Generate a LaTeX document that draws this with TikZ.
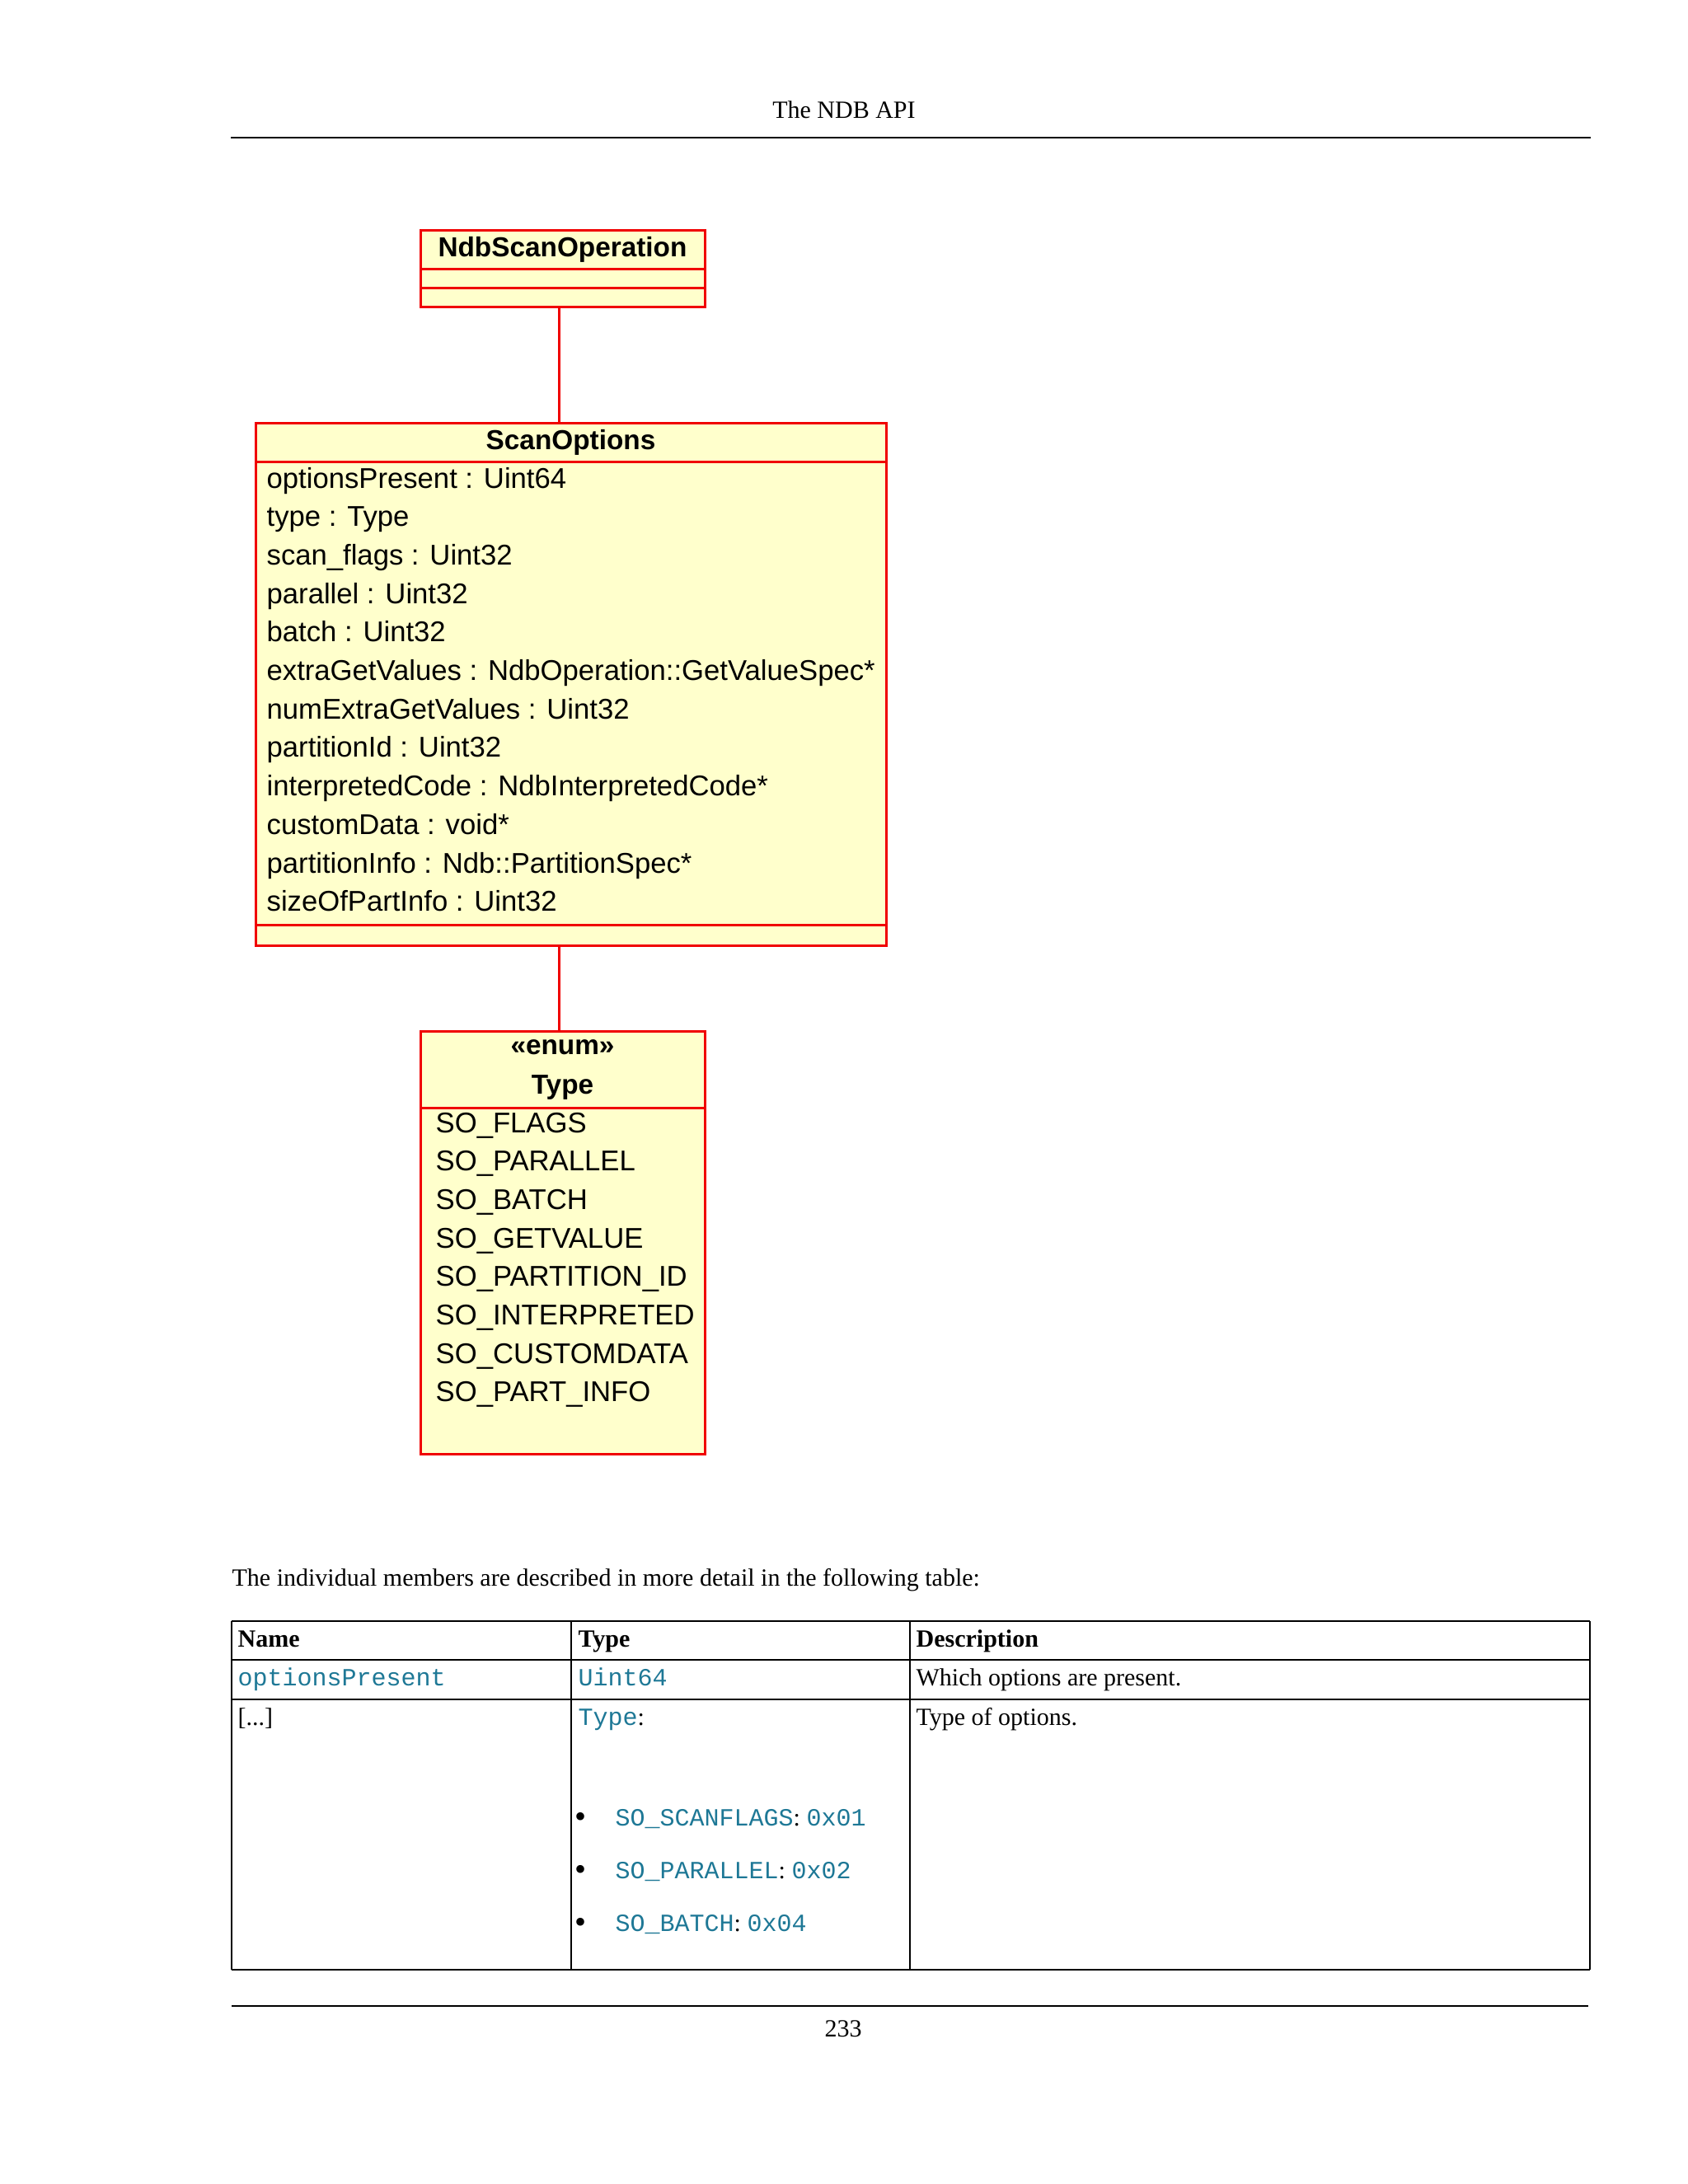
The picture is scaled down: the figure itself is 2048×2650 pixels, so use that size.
\documentclass[tikz,border=0pt]{standalone}
\usepackage{fontspec}
\setmainfont{Liberation Serif}
\setmonofont{Liberation Mono}
\newfontfamily\umlfont{Liberation Sans}
\usepackage{xcolor}
\usepackage{tikz}
\usetikzlibrary{positioning}
\definecolor{umledge}{RGB}{240,0,0}
\definecolor{umlfill}{RGB}{255,255,204}
\definecolor{codeink}{RGB}{30,120,150}
\tikzset{
  clsbox/.style={
    draw=umledge, fill=umlfill, line width=0.9pt,
    outer sep=0pt, inner sep=0pt, minimum width=103.5pt
  },
  clswide/.style={clsbox, minimum width=229.5pt},
  clsname/.style={font=\umlfont\bfseries\fontsize{10}{14.4}\selectfont, align=center},
  clsattr/.style={font=\umlfont\fontsize{10.4}{12}\selectfont, inner sep=0pt, anchor=base west},
  conn/.style={draw=umledge, line width=0.9pt},
  pagetxt/.style={font=\fontsize{9}{11}\selectfont, inner sep=0pt, anchor=base west},
  headtxt/.style={pagetxt, font=\bfseries\fontsize{9}{11}\selectfont},
  codetxt/.style={pagetxt, font=\ttfamily\fontsize{9}{11}\selectfont, text=codeink},
  pagerule/.style={line width=0.6pt},
  tabthick/.style={line width=0.6pt},
  tabthin/.style={line width=0.4pt}
}
\begin{document}
\begin{tikzpicture}[x=0.3pt, y=-0.3pt, node distance=0pt]
  \useasboundingbox[fill=white] (0,0) rectangle (2048,2650);
  \node[pagetxt, anchor=base] (head) at (1024,143) {The NDB API};
  \draw[pagerule] (280,167) -- (1930,167);

  \node[clsbox, clsname, minimum height=14.1pt, anchor=north] (nso1) at (682.5,279) {NdbScanOperation};
  \node[clsbox, minimum height=6.9pt, below=of nso1] (nso2) {};
  \node[clsbox, minimum height=6.9pt, below=of nso2] (nso3) {};

  \node[clswide, clsname, minimum height=14.1pt, anchor=north] (so1) at (692.5,513) {ScanOptions};
  \node[clswide, minimum height=168.6pt, below=of so1] (so2) {};
  \node[clswide, minimum height=7.5pt, below=of so2] (so3) {};
  \foreach \lbl [count=\i from 0] in {optionsPresent : Uint64, type : Type, scan\_flags : Uint32,
      parallel : Uint32, batch : Uint32, extraGetValues : NdbOperation::GetValueSpec*,
      numExtraGetValues : Uint32, partitionId : Uint32, interpretedCode : NdbInterpretedCode*,
      customData : void*, partitionInfo : Ndb::PartitionSpec*, sizeOfPartInfo : Uint32}
    \node[clsattr] (att\i) at (323,{592+46.7*\i}) {\lbl};

  \node[clsbox, clsname, minimum height=27.9pt, anchor=north] (ty1) at (682.5,1251) {«enum»\\Type};
  \node[clsbox, minimum height=126pt, below=of ty1] (ty2) {};
  \foreach \lbl [count=\i from 0] in {SO\_FLAGS, SO\_PARALLEL, SO\_BATCH, SO\_GETVALUE,
      SO\_PARTITION\_ID, SO\_INTERPRETED, SO\_CUSTOMDATA, SO\_PART\_INFO}
    \node[clsattr] (lit\i) at (528,{1374+46.7*\i}) {\lbl};

  \draw[conn] ([xshift=-1.35pt]nso3.south) -- ([xshift=-1.35pt]nso3.south |- so1.north);
  \draw[conn] ([xshift=-1.35pt]ty1.north |- so3.south) -- ([xshift=-1.35pt]ty1.north);

  \node[pagetxt] (intro) at (281,1924) {The individual members are described in more detail in the following table:};

  \draw[tabthick] (281,1967) -- (1929,1967);
  \draw[tabthin] (281,2014) -- (1929,2014);
  \draw[tabthin] (281,2062) -- (1929,2062);
  \draw[tabthick] (281,2390) -- (1929,2390);
  \foreach \x in {281,693,1104,1929}
    \draw[tabthin] (\x,1967) -- (\x,2390);

  \node[headtxt] (hname) at (288,1998) {Name};
  \node[headtxt] (htype) at (701,1998) {Type};
  \node[headtxt] (hdesc) at (1111,1998) {Description};
  \node[codetxt] (r1name) at (288,2045) {optionsPresent};
  \node[codetxt] (r1type) at (701,2045) {Uint64};
  \node[pagetxt] (r1desc) at (1111,2045) {Which options are present.};
  \node[pagetxt] (r2name) at (288,2093) {[...]};
  \node[pagetxt] (r2type) at (701,2093) {\textcolor{codeink}{\ttfamily Type}:};
  \node[pagetxt] (r2desc) at (1111,2093) {Type of options.};
  \foreach \flag/\hexv [count=\i from 0] in {SO\_SCANFLAGS/0x01, SO\_PARALLEL/0x02, SO\_BATCH/0x04} {
    \node[pagetxt, anchor=base, font=\fontsize{12}{12}\selectfont] (dot\i) at (704,{2217+64*\i}) {\textbullet};
    \node[pagetxt] (opt\i) at (746,{2215+64*\i}) {\textcolor{codeink}{\ttfamily\flag}: \textcolor{codeink}{\ttfamily\hexv}};
  }

  \draw[pagerule] (281,2434) -- (1927,2434);
  \node[pagetxt, anchor=base] (pageno) at (1023,2471) {233};
\end{tikzpicture}
\end{document}
